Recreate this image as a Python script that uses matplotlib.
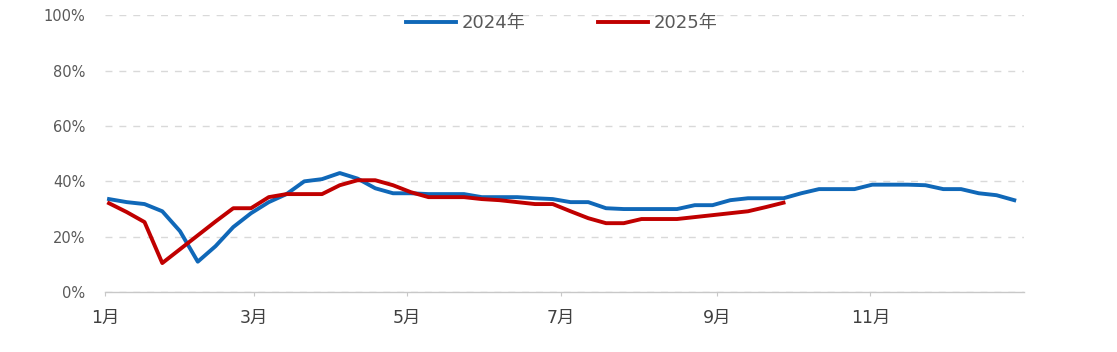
import numpy as np
import matplotlib
matplotlib.use("Agg")
import matplotlib.pyplot as plt

plt.rcParams['font.family'] = ['DejaVu Sans', 'Noto Sans CJK SC']

# weekly values (%)
rate_2024 = [33.6, 32.5, 31.8, 29.2, 22.0, 11.0, 16.6, 23.5, 28.5, 32.5,
             35.4, 40.0, 40.8, 43.0, 41.0, 37.5, 35.7, 35.7, 35.4, 35.4,
             35.4, 34.3, 34.3, 34.3, 33.9, 33.6, 32.5, 32.5, 30.3, 30.0,
             30.0, 30.0, 30.0, 31.4, 31.4, 33.2, 33.9, 33.9, 33.9, 35.7,
             37.2, 37.2, 37.2, 38.8, 38.8, 38.8, 38.6, 37.2, 37.2, 35.7,
             35.0, 33.2]
rate_2025 = [32.1, 28.9, 25.3, 10.5, 15.5, 20.5, 25.5, 30.3, 30.3, 34.3,
             35.4, 35.4, 35.4, 38.6, 40.4, 40.4, 38.6, 36.1, 34.3, 34.3,
             34.3, 33.6, 33.2, 32.5, 31.8, 31.8, 29.2, 26.7, 24.9, 24.9,
             26.4, 26.4, 26.4, 27.1, 27.8, 28.5, 29.2, 30.7, 32.3]
series_labels = ['2024年', '2025年']
month_labels = ['1月', '3月', '5月', '7月', '9月', '11月']
month_nums = [1, 3, 5, 7, 9, 11]

# x axis in days of the year, weekly points
week_day_24 = 1.6 + 7.05 * np.arange(len(rate_2024))
week_day_25 = 1.6 + 7.05 * np.arange(len(rate_2025))
month_days = [(np.datetime64(f'2025-{m:02d}-01') - np.datetime64('2025-01-01')).astype(int)
              for m in month_nums]

fig = plt.figure(figsize=(11.17, 3.52), dpi=100)
ax = fig.add_axes([0.094, 0.170, 0.8227, 0.787])

ax.plot(week_day_24, rate_2024, color='#1068B8', lw=2.8, label=series_labels[0],
        solid_joinstyle='round')
ax.plot(week_day_25, rate_2025, color='#C00000', lw=2.8, label=series_labels[1],
        solid_joinstyle='round')

ax.set_xlim(0, 365)
ax.set_ylim(0, 100)
ax.set_yticks(np.arange(0, 101, 20))
ax.set_yticklabels([f'{v}%' for v in range(0, 101, 20)])
ax.set_xticks(month_days)
ax.set_xticklabels(month_labels)

ax.grid(axis='y', color='#D9D9D9', linestyle=(0, (5, 5)), lw=1.0)
ax.set_axisbelow(True)
for s in ['top', 'right', 'left']:
    ax.spines[s].set_visible(False)
ax.spines['bottom'].set_color('#C8C8C8')
ax.spines['bottom'].set_linewidth(1.0)
ax.tick_params(axis='y', length=0, pad=14, labelsize=10.5, labelcolor='#595959')
ax.tick_params(axis='x', length=3, color='#C8C8C8', pad=9, labelsize=12.5,
               labelcolor='#404040')

ax.legend(loc='center', bbox_to_anchor=(0.497, 0.972), ncol=2, frameon=False,
          handlelength=2.8, handletextpad=0.3, columnspacing=4.0,
          fontsize=13, labelcolor='#595959')

fig.savefig('out.png', dpi=100)
